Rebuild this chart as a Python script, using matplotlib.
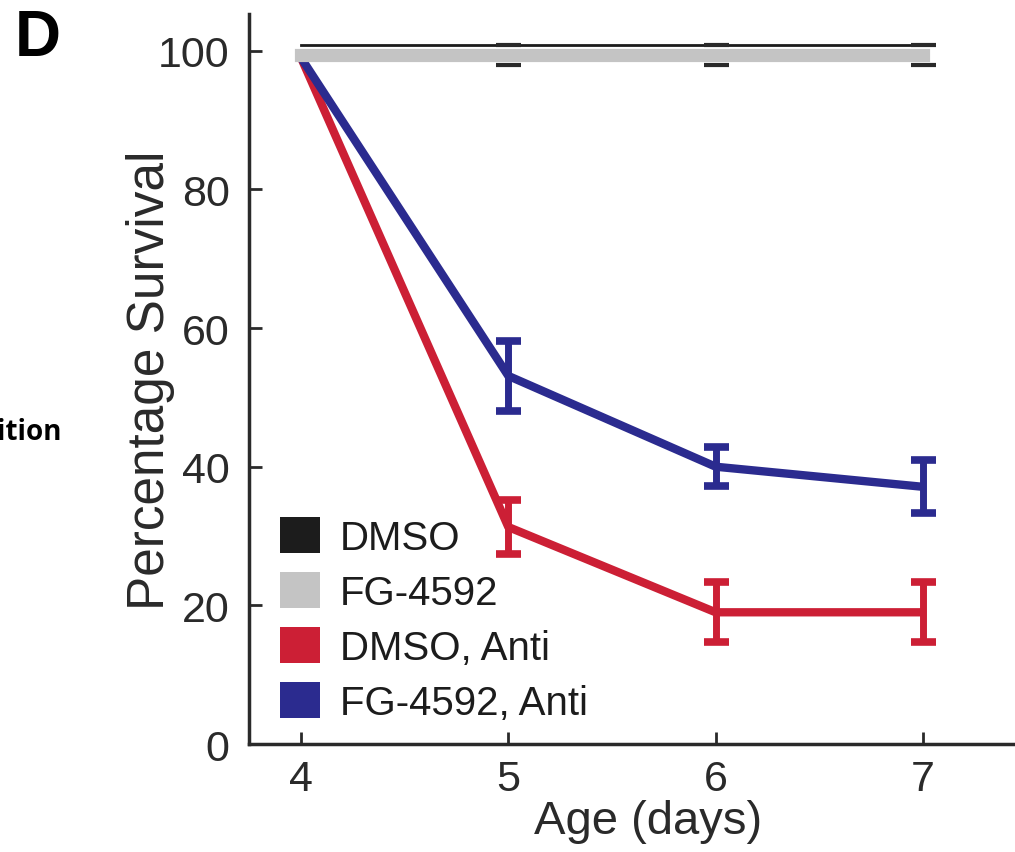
import numpy as np
import matplotlib
matplotlib.use("Agg")
import matplotlib.pyplot as plt
from matplotlib.patches import Patch

plt.rcParams['font.family'] = ['Liberation Sans', 'DejaVu Sans']

# data
days = [4, 5, 6, 7]
dmso = [100.8, 100.8, 100.8, 100.8]
fg4592 = [99.4, 99.4, 99.4, 99.4]
fg4592_err = [1.5, 1.5, 1.5]          # days 5-7
dmso_anti = [99, 31.3, 19.0, 19.0]
dmso_anti_err = [3.9, 4.3, 4.3]       # days 5-7
fg_anti = [99, 53.1, 40.0, 37.1]
fg_anti_err = [5.0, 2.8, 3.8]         # days 5-7

labels = ['DMSO', 'FG-4592', 'DMSO, Anti', 'FG-4592, Anti']
colors = ['#1c1c1c', '#c4c4c4', '#cc1f35', '#2b2b8f']
yticks = [0, 20, 40, 60, 80, 100]

fig = plt.figure(figsize=(10.15, 8.53), dpi=100)
ax = fig.add_axes([0.2453, 0.1266, 0.7547, 0.8558])

# treated lines
for vals, errs, c in [(dmso_anti, dmso_anti_err, colors[2]), (fg_anti, fg_anti_err, colors[3])]:
    ax.plot(days, vals, color=c, lw=6, solid_capstyle='butt', zorder=3)
    ax.errorbar(days[1:], vals[1:], yerr=errs, fmt='none', ecolor=c,
                elinewidth=5, capsize=9, capthick=5.5, zorder=4)

# controls
ax.plot(days, fg4592, color=colors[1], lw=9.5, solid_capstyle='projecting', zorder=5)
ax.plot(days, dmso, color=colors[0], lw=2, solid_capstyle='projecting', zorder=6)
ax.errorbar(days[1:], fg4592[1:], yerr=fg4592_err, fmt='none', ecolor='#2a2a2a',
            elinewidth=0, capsize=9, capthick=3, zorder=7)

ax.set_xlim(3.749, 7.444)
ax.set_ylim(0, 105.3)
ax.set_xticks(days)
ax.set_yticks(yticks)

for s in ['top', 'right']:
    ax.spines[s].set_visible(False)
for s in ['left', 'bottom']:
    ax.spines[s].set_linewidth(2.5)
    ax.spines[s].set_color('#2a2a2a')

ax.tick_params(direction='in', length=9, width=2, colors='#2a2a2a',
               labelsize=31, labelcolor='#2a2a2a')
ax.tick_params(axis='y', pad=14)
ax.tick_params(axis='x', pad=11)

ax.set_xlabel('Age (days)', fontsize=34, color='#2a2a2a')
ax.set_ylabel('Percentage Survival', fontsize=37, color='#2a2a2a')
ax.xaxis.set_label_coords(0.521, -0.076)
ax.yaxis.set_label_coords(-0.097, 0.5)

handles = [Patch(facecolor=c, edgecolor='none') for c in colors]
ax.legend(handles, labels, loc='lower left', bbox_to_anchor=(0.04, 0.03),
          frameon=False, fontsize=29, handlelength=1.0, handleheight=1.0,
          handletextpad=0.5, labelspacing=0.38, borderpad=0, borderaxespad=0,
          labelcolor='#1c1c1c')

fig.text(0.015, 0.99, 'D', fontsize=46, fontweight='bold', va='top', ha='left')
fig.text(0.061, (853 - 433) / 853, 'ition', fontsize=20, fontweight='bold',
         va='center', ha='right', family=['Open Sans', 'DejaVu Sans'])

fig.savefig('out.png', dpi=100)
